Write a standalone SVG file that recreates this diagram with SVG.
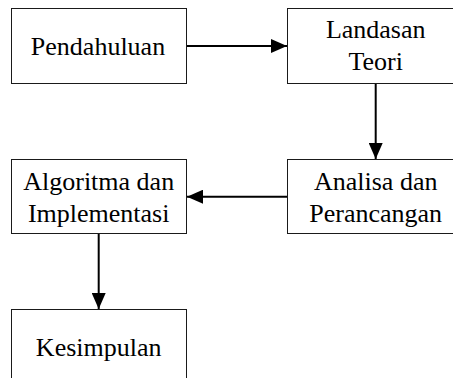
<svg xmlns="http://www.w3.org/2000/svg" width="453" height="378" viewBox="0 0 453 378">
<style>
.box{fill:#fff;stroke:#1a1a1a;stroke-width:1}
.lbl{font-family:'Liberation Serif','DejaVu Serif',serif;font-size:26px;fill:#000;text-anchor:middle}
.conn{stroke:#000;stroke-width:2;fill:none}
</style>
<defs>
<marker id="ah" markerUnits="userSpaceOnUse" markerWidth="16" markerHeight="14" refX="16" refY="7" orient="auto">
<path d="M0,0 L16,7 L0,14 Z" fill="#000"/>
</marker>
</defs>
<rect width="453" height="378" fill="#fff"/>
<g id="connectors">
<line class="conn" x1="187" y1="46" x2="287" y2="46" marker-end="url(#ah)"/>
<line class="conn" x1="375.7" y1="83" x2="375.7" y2="159" marker-end="url(#ah)"/>
<line class="conn" x1="287" y1="196.7" x2="187" y2="196.7" marker-end="url(#ah)"/>
<line class="conn" x1="98.7" y1="234" x2="98.7" y2="309" marker-end="url(#ah)"/>
</g>
<g id="pendahuluan">
<rect class="box" x="11.5" y="8.5" width="175" height="75"/>
<text class="lbl" font-family="Liberation Serif, serif" x="98" y="55">Pendahuluan</text>
</g>
<g id="landasan-teori">
<rect class="box" x="287.5" y="8.5" width="176" height="75"/>
<text class="lbl" font-family="Liberation Serif, serif" x="375.7" y="38.3">Landasan</text>
<text class="lbl" font-family="Liberation Serif, serif" x="375.7" y="70">Teori</text>
</g>
<g id="analisa">
<rect class="box" x="287.5" y="159.5" width="176" height="74"/>
<text class="lbl" font-family="Liberation Serif, serif" x="375.7" y="190">Analisa dan</text>
<text class="lbl" font-family="Liberation Serif, serif" x="375.7" y="221.7">Perancangan</text>
</g>
<g id="algoritma">
<rect class="box" x="11.5" y="159.5" width="175" height="74"/>
<text class="lbl" font-family="Liberation Serif, serif" x="98.7" y="190">Algoritma dan</text>
<text class="lbl" font-family="Liberation Serif, serif" x="98.7" y="221.7">Implementasi</text>
</g>
<g id="kesimpulan">
<rect class="box" x="11.5" y="309.5" width="175" height="75"/>
<text class="lbl" font-family="Liberation Serif, serif" x="98.7" y="355.5">Kesimpulan</text>
</g>
</svg>
